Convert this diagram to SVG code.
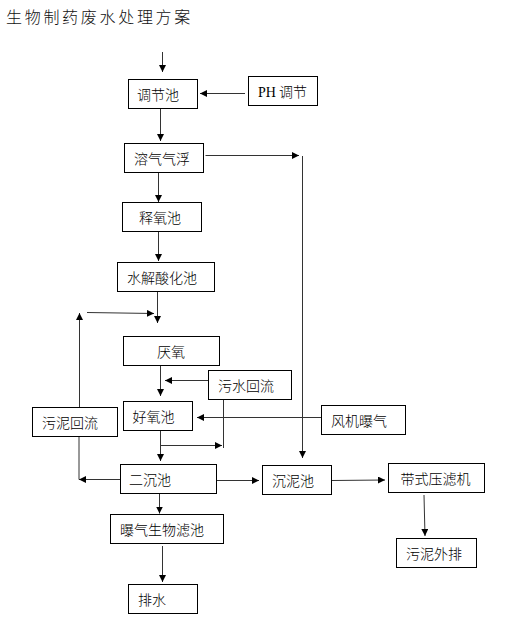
<svg xmlns="http://www.w3.org/2000/svg" width="511" height="626" viewBox="0 0 511 626">
<defs>
<style>
.box{fill:#fff;stroke:#000;stroke-width:1}
.t{font-family:"Noto Sans CJK SC","Noto Sans CJK JP",sans-serif;font-size:14px;font-weight:300;fill:#000}
.ser{font-family:"Liberation Serif",serif;font-weight:400}
.ln{fill:none;stroke:#333;stroke-width:1}
.title{font-family:"Noto Sans CJK SC","Noto Sans CJK JP",sans-serif;font-size:16px;font-weight:300;letter-spacing:2.7px;fill:#111}
</style>
<marker id="ah" markerUnits="userSpaceOnUse" markerWidth="8" markerHeight="8" refX="7" refY="3.5" orient="auto">
<path d="M0,0 L7,3.5 L0,7 z" fill="#000"/>
</marker>
</defs>
<rect width="511" height="626" fill="#fff"/>
<text class="title" x="6" y="22.5">生物制药废水处理方案</text>

<g id="connectors">
<line class="ln" x1="162.5" y1="52" x2="162.5" y2="72" marker-end="url(#ah)"/>
<line class="ln" x1="245" y1="93.5" x2="200" y2="93.5" marker-end="url(#ah)"/>
<line class="ln" x1="160.5" y1="108" x2="160.5" y2="141" marker-end="url(#ah)"/>
<line class="ln" x1="205.5" y1="155.5" x2="299" y2="155.5" marker-end="url(#ah)"/>
<line class="ln" x1="302.5" y1="156" x2="302.5" y2="458" marker-end="url(#ah)"/>
<line class="ln" x1="158.5" y1="172" x2="158.5" y2="202" marker-end="url(#ah)"/>
<line class="ln" x1="158.5" y1="231" x2="158.5" y2="261" marker-end="url(#ah)"/>
<line class="ln" x1="157.5" y1="291" x2="157.5" y2="323" marker-end="url(#ah)"/>
<line class="ln" x1="87" y1="312.5" x2="154" y2="313.5" marker-end="url(#ah)"/>
<line class="ln" x1="79.5" y1="407" x2="79.5" y2="313" marker-end="url(#ah)"/>
<line class="ln" x1="160.5" y1="365" x2="160.5" y2="396" marker-end="url(#ah)"/>
<line class="ln" x1="208" y1="380.5" x2="165" y2="380.5" marker-end="url(#ah)"/>
<line class="ln" x1="223.5" y1="399" x2="223.5" y2="448"/>
<polyline class="ln" points="160.5,430 160.5,445.5 222,445.5" marker-end="url(#ah)"/>
<line class="ln" x1="160.5" y1="445" x2="160.5" y2="461" marker-end="url(#ah)"/>
<line class="ln" x1="321" y1="417.5" x2="197" y2="417.5" marker-end="url(#ah)"/>
<line class="ln" x1="79" y1="436" x2="79" y2="479.5"/>
<line class="ln" x1="120" y1="479.5" x2="79" y2="479.5" marker-end="url(#ah)"/>
<line class="ln" x1="217" y1="480.5" x2="259" y2="480.5" marker-end="url(#ah)"/>
<line class="ln" x1="332" y1="480.5" x2="385" y2="480" marker-end="url(#ah)"/>
<line class="ln" x1="424" y1="495" x2="425" y2="536" marker-end="url(#ah)"/>
<line class="ln" x1="159.5" y1="493" x2="159.5" y2="513.5" marker-end="url(#ah)"/>
<line class="ln" x1="162.5" y1="546" x2="162.5" y2="582" marker-end="url(#ah)"/>
</g>

<g id="n-tiaojiechi"><rect class="box" x="128.5" y="79.5" width="69" height="29"/><text class="t" x="137" y="100">调节池</text></g>
<g id="n-ph"><rect class="box" x="248.5" y="76.5" width="69" height="29"/><text class="t" x="258" y="97"><tspan class="ser">PH</tspan> 调节</text></g>
<g id="n-rongqi"><rect class="box" x="124.5" y="143.5" width="79" height="29"/><text class="t" x="134" y="164">溶气气浮</text></g>
<g id="n-shiyang"><rect class="box" x="122.5" y="202.5" width="79" height="29"/><text class="t" x="139" y="223">释氧池</text></g>
<g id="n-shuijie"><rect class="box" x="117.5" y="262.5" width="97" height="29"/><text class="t" x="127" y="283">水解酸化池</text></g>
<g id="n-yanyang"><rect class="box" x="123.5" y="336.5" width="96" height="29"/><text class="t" x="157" y="357">厌氧</text></g>
<g id="n-wushuihuiliu"><rect class="box" x="208.5" y="370.5" width="83" height="29"/><text class="t" x="218" y="391">污水回流</text></g>
<g id="n-haoyang"><rect class="box" x="123.5" y="401.5" width="69" height="29"/><text class="t" x="132.5" y="422">好氧池</text></g>
<g id="n-fengji"><rect class="box" x="321.5" y="405.5" width="84" height="29"/><text class="t" x="331" y="426">风机曝气</text></g>
<g id="n-wunihuiliu"><rect class="box" x="32.5" y="407.5" width="85" height="29"/><text class="t" x="42" y="428">污泥回流</text></g>
<g id="n-erchen"><rect class="box" x="120.5" y="464.5" width="96" height="29"/><text class="t" x="129" y="485">二沉池</text></g>
<g id="n-chenni"><rect class="box" x="262.5" y="465.5" width="69" height="29"/><text class="t" x="272" y="486">沉泥池</text></g>
<g id="n-daishi"><rect class="box" x="388.5" y="463.5" width="96" height="29"/><text class="t" x="400.5" y="484">带式压滤机</text></g>
<g id="n-wuniwaipai"><rect class="box" x="396.5" y="538.5" width="80" height="29"/><text class="t" x="406" y="559">污泥外排</text></g>
<g id="n-baoqi"><rect class="box" x="110.5" y="514.5" width="113" height="29"/><text class="t" x="120" y="535">曝气生物滤池</text></g>
<g id="n-paishui"><rect class="box" x="128.5" y="584.5" width="69" height="29"/><text class="t" x="138" y="605">排水</text></g>
</svg>
